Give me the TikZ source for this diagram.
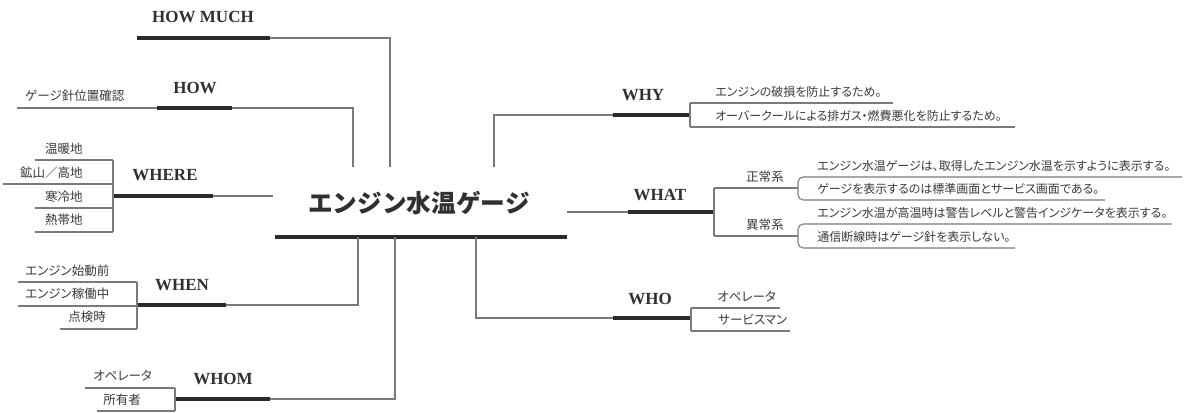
\documentclass[tikz,border=0pt]{standalone}
\usepackage{fontspec}
\setmainfont{Liberation Serif}
\newfontfamily\jp{Noto Sans CJK JP}
\newfontfamily\jpp[RawFeature=+palt]{Noto Sans CJK JP}
\definecolor{txt}{HTML}{303030}
\definecolor{itemc}{HTML}{3A3A3A}
\definecolor{ln}{HTML}{7A7A7A}
\definecolor{barc}{HTML}{2A2A2A}
\tikzset{
  thinln/.style={draw=ln, line width=0.8pt},
  bar/.style={draw=barc, line width=3pt},
  lbl/.style={font=\bfseries\fontsize{12.75}{14}\selectfont, text=txt, inner sep=0pt},
  item/.style={font=\jpp\fontsize{9.4}{11}\selectfont, text=itemc, inner sep=0pt},
  itemr/.style={font=\jpp\fontsize{9.0}{11}\selectfont, text=itemc, inner sep=0pt},
  ttl/.style={font=\jp\bfseries\fontsize{18.5}{22}\selectfont, text=txt, inner sep=0pt},
  brk/.style={thinln, rounded corners=4pt},
}
\begin{document}
\begin{tikzpicture}[x=0.75pt,y=-0.75pt]
\useasboundingbox (0,0) rectangle (1192,412);
\fill[white] (0,0) rectangle (1192,412);

% ---------- centre ----------
\node[ttl] (title) at (419,203) {エンジン水温ゲージ};
\coordinate (tbL) at (275,237);
\coordinate (tbR) at (567,237);
\draw[bar] (tbL) -- (tbR);

% ---------- HOW MUCH ----------
\node[lbl] (howmuch) at (203,17) {HOW MUCH};
\coordinate (hmL) at (137,38);
\coordinate (hmR) at (270,38);
\coordinate (hmE) at (390,167);
\draw[bar] (hmL) -- (hmR);
\draw[thinln] (hmR) -| (hmE);

% ---------- HOW ----------
\node[lbl] (how) at (195,88) {HOW};
\coordinate (hwL) at (157,108);
\coordinate (hwR) at (232,108);
\coordinate (hwE) at (353,167);
\coordinate (hwF) at (17,108);
\draw[bar] (hwL) -- (hwR);
\draw[thinln] (hwR) -| (hwE);
\draw[thinln] (hwF) -- (hwL);
\node[item, anchor=west] (how1) at (25,96) {ゲージ針位置確認};

% ---------- WHERE ----------
\node[lbl] (where) at (165,175) {WHERE};
\coordinate (wrL) at (113,196);
\coordinate (wrR) at (213,196);
\coordinate (wrE) at (273,196);
\draw[bar] (wrL) -- (wrR);
\draw[thinln] (wrR) -- (wrE);
\coordinate (wr1) at (113,160); \coordinate (wr1s) at (35,160);
\coordinate (wr2) at (113,184); \coordinate (wr2s) at (3,184);
\coordinate (wr3) at (113,208); \coordinate (wr3s) at (35,208);
\coordinate (wr4) at (113,232); \coordinate (wr4s) at (35,232);
\draw[thinln] (wr1) -- (wr4);
\draw[thinln] (wr1s) -- (wr1);
\draw[thinln] (wr2s) -- (wr2);
\draw[thinln] (wr3s) -- (wr3);
\draw[thinln] (wr4s) -- (wr4);
\node[item, anchor=east] (wh1) at (83,149) {温暖地};
\node[item, anchor=east] (wh2) at (83,173) {鉱山／高地};
\node[item, anchor=east] (wh3) at (83,197) {寒冷地};
\node[item, anchor=east] (wh4) at (83,220) {熱帯地};

% ---------- WHEN ----------
\node[lbl] (when) at (182,285) {WHEN};
\coordinate (wnL) at (137,305);
\coordinate (wnR) at (226,305);
\coordinate (wnE) at (358,237);
\draw[bar] (wnL) -- (wnR);
\draw[thinln] (wnR) -| (wnE);
\coordinate (wn1) at (137,282); \coordinate (wn1s) at (18,282);
\coordinate (wn2) at (137,306); \coordinate (wn2s) at (18,306);
\coordinate (wn3) at (137,329); \coordinate (wn3s) at (60,329);
\draw[thinln] (wn1) -- (wn3);
\draw[thinln] (wn1s) -- (wn1);
\draw[thinln] (wn2s) -- (wn2);
\draw[thinln] (wn3s) -- (wn3);
\node[item, anchor=west] (wn1t) at (25,271) {エンジン始動前};
\node[item, anchor=west] (wn2t) at (25,294) {エンジン稼働中};
\node[item, anchor=west] (wn3t) at (68,317) {点検時};

% ---------- WHOM ----------
\node[lbl] (whom) at (223,379) {WHOM};
\coordinate (wmL) at (175,399);
\coordinate (wmR) at (270,399);
\coordinate (wmE) at (395,237);
\draw[bar] (wmL) -- (wmR);
\draw[thinln] (wmR) -| (wmE);
\coordinate (wm1) at (175,388); \coordinate (wm1s) at (85,388);
\coordinate (wm2) at (175,411); \coordinate (wm2s) at (97,411);
\draw[thinln] (wm1) -- (wm2);
\draw[thinln] (wm1s) -- (wm1);
\draw[thinln] (wm2s) -- (wm2);
\node[item, anchor=west] (wm1t) at (93,376) {オペレータ};
\node[item, anchor=west] (wm2t) at (103,400) {所有者};

% ---------- WHY ----------
\node[lbl] (why) at (643,95) {WHY};
\coordinate (wyL) at (613,115);
\coordinate (wyR) at (690,115);
\coordinate (wyS) at (494,167);
\draw[bar] (wyL) -- (wyR);
\draw[thinln] (wyS) |- (wyL);
\coordinate (wy1) at (690,103); \coordinate (wy1e) at (893,103);
\coordinate (wy2) at (690,127); \coordinate (wy2e) at (1015,127);
\draw[thinln] (wy1) -- (wy2);
\draw[thinln] (wy1) -- (wy1e);
\draw[thinln] (wy2) -- (wy2e);
\node[itemr, anchor=west] (wy1t) at (715,92) {エンジンの破損を防止するため。};
\node[itemr, anchor=west] (wy2t) at (715,116) {オーバークールによる排ガス・燃費悪化を防止するため。};

% ---------- WHAT ----------
\node[lbl] (what) at (660,195) {WHAT};
\coordinate (wtS) at (567,212);
\coordinate (wtL) at (628,212);
\coordinate (wtR) at (714,212);
\draw[thinln] (wtS) -- (wtL);
\draw[bar] (wtL) -- (wtR);
\coordinate (wtA) at (714,188); \coordinate (wtAe) at (798,188);
\coordinate (wtB) at (714,236); \coordinate (wtBe) at (798,236);
\draw[thinln] (wtA) -- (wtB);
\draw[thinln] (wtA) -- (wtAe);
\draw[thinln] (wtB) -- (wtBe);
\node[item] (seijo) at (765,177) {正常系};
\node[item] (ijo) at (765,225) {異常系};
\coordinate (a1e) at (1182,177); \coordinate (a1) at (798,177);
\coordinate (a2) at (798,200); \coordinate (a2e) at (1105,200);
\draw[brk] (a1e) -- (a1) -- (a2) -- (a2e);
\coordinate (b1e) at (1172,224); \coordinate (b1) at (798,224);
\coordinate (b2) at (798,248); \coordinate (b2e) at (1015,248);
\draw[brk] (b1e) -- (b1) -- (b2) -- (b2e);
\node[itemr, anchor=west] (a1t) at (817,166) {エンジン水温ゲージは、取得したエンジン水温を示すように表示する。};
\node[itemr, anchor=west] (a2t) at (817,189) {ゲージを表示するのは標準画面とサービス画面である。};
\node[itemr, anchor=west] (b1t) at (817,213) {エンジン水温が高温時は警告レベルと警告インジケータを表示する。};
\node[itemr, anchor=west] (b2t) at (817,237) {通信断線時はゲージ針を表示しない。};

% ---------- WHO ----------
\node[lbl] (who) at (650,299) {WHO};
\coordinate (woL) at (613,318);
\coordinate (woR) at (691,318);
\coordinate (woS) at (476,237);
\draw[bar] (woL) -- (woR);
\draw[thinln] (woS) |- (woL);
\coordinate (wo1) at (691,308); \coordinate (wo1e) at (780,308);
\coordinate (wo2) at (691,331); \coordinate (wo2e) at (790,331);
\draw[thinln] (wo1) -- (wo2);
\draw[thinln] (wo1) -- (wo1e);
\draw[thinln] (wo2) -- (wo2e);
\node[item, anchor=west] (wo1t) at (717,297) {オペレータ};
\node[item, anchor=west] (wo2t) at (718,320) {サービスマン};
\end{tikzpicture}
\end{document}
